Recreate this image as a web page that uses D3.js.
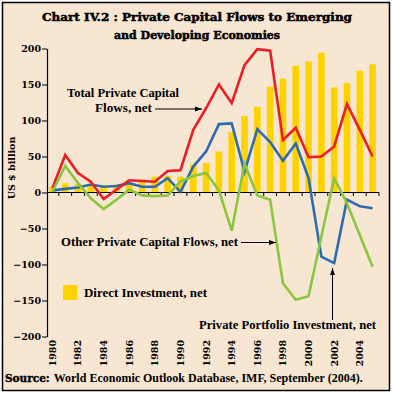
<!DOCTYPE html>
<html>
<head>
<meta charset="utf-8">
<script src="https://cdn.jsdelivr.net/npm/d3@7"></script>
<style>
html,body{margin:0;padding:0;background:#fff;}
svg{display:block;}
</style>
</head>
<body>
<script>
const years = d3.range(1980, 2006);
const yTicks = [-200, -150, -100, -50, 0, 50, 100, 150, 200];
const xTickLabels = [1980,1982,1984,1986,1988,1990,1992,1994,1996,1998,2000,2002,2004];
const directInvestment = [8, 13, 12, 9, 10, 11, 13, 18, 22, 23, 22, 39, 41, 57, 84, 106, 119, 147, 158, 176, 182, 194, 146, 152, 169, 178];
const totalFlows = [6, 52, 27, 15, -9, 4, 17, 16, 15, 30, 31, 87, 117, 150, 124, 177, 199, 197, 73, 90, 49, 50, 64, 123, 87, 50];
const portfolioFlows = [3, 5, 7, 11, 8, 9, 13, 8, 8, 20, 1, 36, 57, 95, 96, 29, 88, 70, 44, 68, 20, -89, -98, -10, -19, -22];
const otherFlows = [1, 37, 13, -8, -23, -10, 4, -4, -5, -4, 15, 23, 27, 3, -53, 40, -4, -10, -126, -149, -144, -61, 20, -15, -59, -103];

const W = 394, H = 396;
const svg = d3.select("body").append("svg").attr("width", W).attr("height", H);
svg.append("rect").attr("x",0).attr("y",0).attr("width",W).attr("height",H).attr("fill","#fff");
svg.append("rect").attr("x",2.5).attr("y",2.5).attr("width",387).attr("height",388)
  .attr("fill","#F7E6D1").attr("stroke","#000").attr("stroke-width",1.5);

const defs = svg.append("defs");
defs.append("marker").attr("id","arr").attr("viewBox","0 0 10 10").attr("refX",10).attr("refY",5)
  .attr("markerWidth",7).attr("markerHeight",7).attr("orient","auto").attr("markerUnits","userSpaceOnUse")
  .append("path").attr("d","M0,1.5 L10,5 L0,8.5 Z").attr("fill","#000");

const x = d3.scaleBand().domain(years).range([46, 379]).padding(0);
const bw = x.bandwidth();
const y = d3.scaleLinear().domain([-200, 200]).range([336.5, 48.5]);
const cx = yr => x(yr) + bw / 2;

// title
const titleFont = "'DejaVu Serif', serif";
svg.append("text").attr("x",197).attr("y",20.5).attr("text-anchor","middle")
  .attr("font-family",titleFont).attr("font-weight","bold").attr("font-size",11)
  .attr("stroke","#000").attr("stroke-width",0.5)
  .attr("textLength",310).attr("lengthAdjust","spacingAndGlyphs")
  .text("Chart IV.2 : Private Capital Flows to Emerging");
svg.append("text").attr("x",197).attr("y",38.5).attr("text-anchor","middle")
  .attr("font-family",titleFont).attr("font-weight","bold").attr("font-size",11)
  .attr("stroke","#000").attr("stroke-width",0.5)
  .attr("textLength",166).attr("lengthAdjust","spacingAndGlyphs")
  .text("and Developing Economies");

// bars
svg.append("g").selectAll("rect").data(years).join("rect")
  .attr("x", d => cx(d) - 3.3).attr("width", 6.6)
  .attr("y", (d,i) => y(Math.max(0, directInvestment[i])))
  .attr("height", (d,i) => Math.abs(y(directInvestment[i]) - y(0)))
  .attr("fill", "#FFD200");

// y axis
const yAxis = svg.append("g").attr("transform","translate(47,0)")
  .call(d3.axisLeft(y).tickValues(yTicks).tickSize(5).tickSizeOuter(0).tickFormat(d3.format("d")));
yAxis.select(".domain").attr("stroke","#000").attr("stroke-width",1.2);
yAxis.selectAll(".tick line").attr("stroke","#000").attr("stroke-width",1);
yAxis.selectAll("text").attr("font-family","'DejaVu Serif', serif").attr("font-weight","bold")
  .attr("font-size",9.5).attr("fill","#000").attr("x",-6).attr("dy","0.34em");

// zero axis with ticks at band boundaries
const zeroAxis = svg.append("g").attr("transform",`translate(0,${y(0)})`);
zeroAxis.append("line").attr("x1",47).attr("x2",379).attr("stroke","#000").attr("stroke-width",1.2);
zeroAxis.selectAll("line.t").data(years.slice(1).concat([null])).join("line").attr("class","t")
  .attr("x1", d => d === null ? 379 : x(d)).attr("x2", d => d === null ? 379 : x(d))
  .attr("y1",0).attr("y2",3.5).attr("stroke","#000").attr("stroke-width",1);

// x labels
svg.append("g").selectAll("text").data(xTickLabels).join("text")
  .attr("transform", d => `translate(${cx(d)},340) rotate(-90)`)
  .attr("text-anchor","end").attr("dy","0.36em")
  .attr("font-family","'DejaVu Serif', serif").attr("font-weight","bold").attr("font-size",9.5)
  .text(d => d);

// y title
svg.append("text").attr("transform","translate(12,168) rotate(-90)").attr("text-anchor","middle")
  .attr("dy","0.35em").attr("font-family","'DejaVu Serif', serif").attr("font-weight","bold").attr("font-size",9.5)
  .text("US $ billion");

// lines
const line = d3.line().x((d,i) => cx(years[i])).y(d => y(d));
const series = [
  {v: portfolioFlows, c: "#2F6CAF"},
  {v: totalFlows, c: "#EE1C25"},
  {v: otherFlows, c: "#8CC63F"}
];
series.forEach(s => {
  svg.append("path").datum(s.v).attr("d", line).attr("fill","none")
    .attr("stroke", s.c).attr("stroke-width", 2.6).attr("stroke-linejoin","miter");
});

// annotations
const annFont = "'Liberation Serif', serif";
function ann(t, xx, yy, anchor, len) {
  const e = svg.append("text").attr("x",xx).attr("y",yy).attr("text-anchor",anchor||"start")
    .attr("font-family",annFont).attr("font-weight","bold").attr("font-size",11.5).attr("fill","#000").text(t);
  if (len) e.attr("textLength",len).attr("lengthAdjust","spacingAndGlyphs");
  return e;
}
ann("Total Private Capital", 67, 97, "start", 112);
ann("Flows, net", 95, 112, "start", 57);
svg.append("line").attr("x1",155).attr("y1",109).attr("x2",202).attr("y2",109)
  .attr("stroke","#000").attr("stroke-width",1).attr("marker-end","url(#arr)");

ann("Other Private Capital Flows, net", 61, 245.5, "start", 177);
svg.append("line").attr("x1",241).attr("y1",242.5).attr("x2",276).attr("y2",242.5)
  .attr("stroke","#000").attr("stroke-width",1).attr("marker-end","url(#arr)");

svg.append("rect").attr("x",63).attr("y",285).attr("width",14.5).attr("height",15).attr("fill","#FFD200");
ann("Direct Investment, net", 84, 297, "start", 123);

ann("Private Portfolio Investment, net", 199, 329, "start", 177);
svg.append("line").attr("x1",332.5).attr("y1",320).attr("x2",332.5).attr("y2",268)
  .attr("stroke","#000").attr("stroke-width",1).attr("marker-end","url(#arr)");

// source
const src = svg.append("text").attr("x",5).attr("y",382).attr("font-weight","bold").attr("fill","#000");
src.append("tspan").attr("font-family","'DejaVu Serif', serif").attr("font-size",10.5)
  .attr("stroke","#000").attr("stroke-width",0.4).text("Source:");
src.append("tspan").attr("font-family",annFont).attr("font-size",12).attr("dx",4)
  .text("World Economic Outlook Database, IMF, September (2004).");
</script>
</body>
</html>
